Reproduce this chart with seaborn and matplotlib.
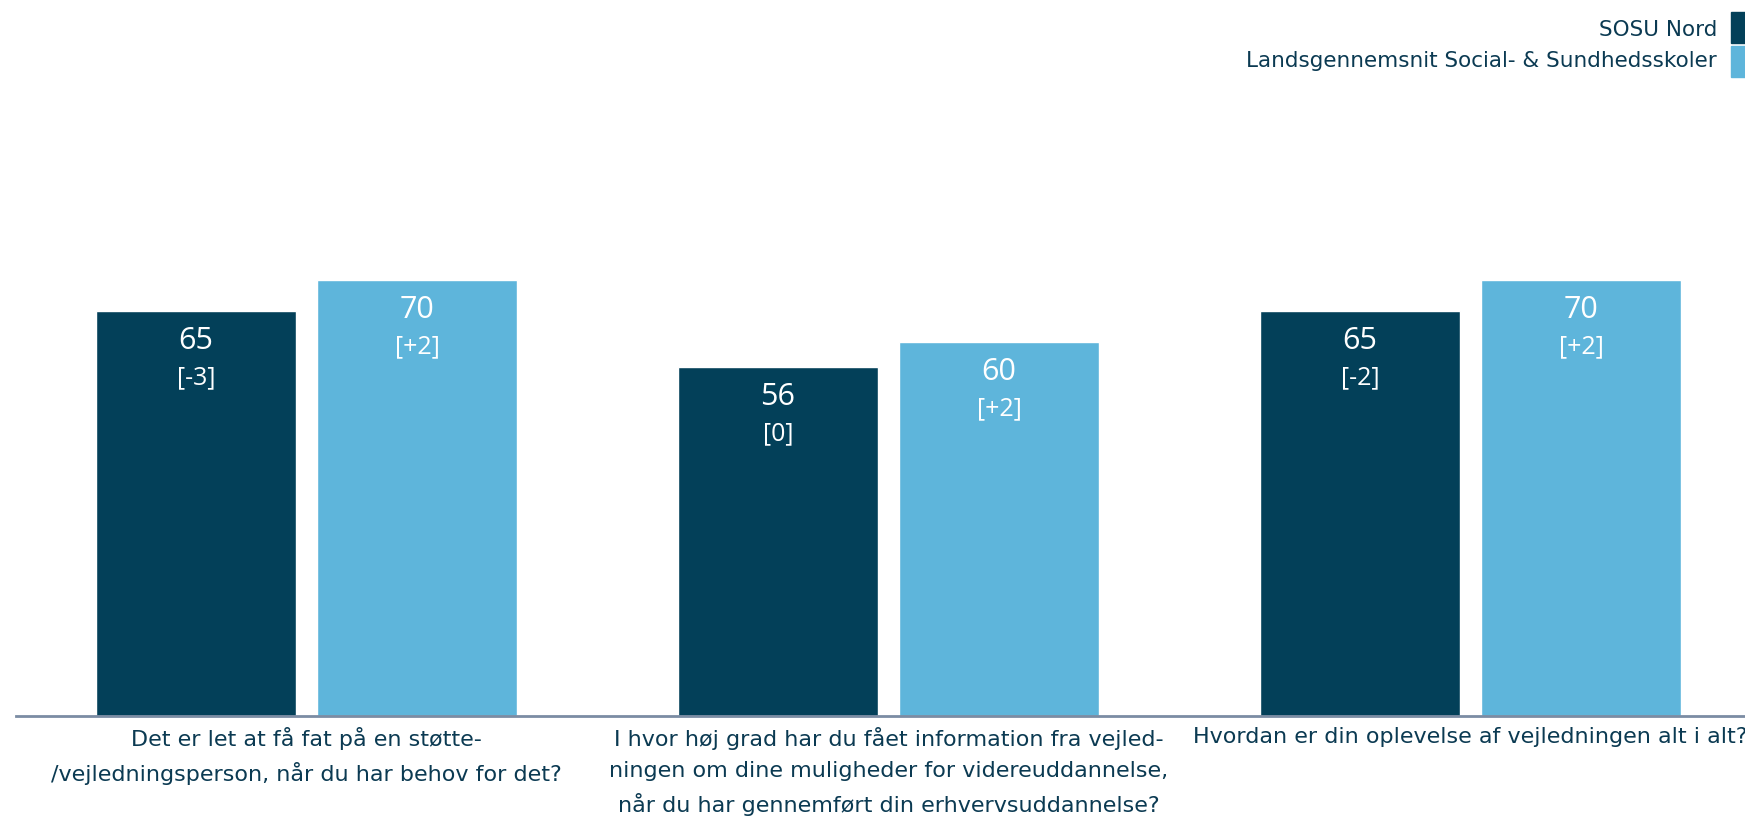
import matplotlib.pyplot as plt
import matplotlib.patches as mpatches
import seaborn as sns
import pandas as pd

# data
questions = [
    'Det er let at få fat på en støtte-\n/vejledningsperson, når du har behov for det?',
    'I hvor høj grad har du fået information fra vejled-\nningen om dine muligheder for videreuddannelse,\nnår du har gennemført din erhvervsuddannelse?',
    'Hvordan er din oplevelse af vejledningen alt i alt?',
]
series = ['SOSU Nord', 'Landsgennemsnit Social- & Sundhedsskoler']
sosu_nord = [65, 56, 65]
sosu_nord_diff = ['[-3]', '[0]', '[-2]']
landsgns = [70, 60, 70]
landsgns_diff = ['[+2]', '[+2]', '[+2]']

colors = ['#034059', '#5EB5DB']
text_col = '#0B3A52'

df = pd.DataFrame({
    'question': questions * 2,
    'serie': [series[0]] * 3 + [series[1]] * 3,
    'value': sosu_nord + landsgns,
})

sns.set_style('white')
plt.rcParams['font.family'] = ['DejaVu Sans']

fig = plt.figure(figsize=(17.45, 8.17), dpi=100)
ax = fig.add_axes([15.6 / 1745, 101 / 817, 1746 / 1745, 623.2 / 817])

sns.barplot(data=df, x='question', y='value', hue='serie', palette=colors,
            width=0.76, gap=0.095, saturation=1, legend=False, ax=ax)

ax.set_xlim(-0.5, 2.5)
ax.set_ylim(0, 100)
ax.set_xlabel('')
ax.set_ylabel('')
ax.set_yticks([])
for s in ['left', 'right', 'top']:
    ax.spines[s].set_visible(False)
ax.spines['bottom'].set_color('#7B8CA3')
ax.spines['bottom'].set_linewidth(2)
ax.tick_params(axis='x', length=0, pad=8)
for lab in ax.get_xticklabels():
    lab.set_fontsize(16)
    lab.set_color(text_col)
    lab.set_family('DejaVu Sans Condensed')
    lab.set_linespacing(1.65)
    lab.set_verticalalignment('top')

# value labels inside bars
diffs = [sosu_nord_diff, landsgns_diff]
for cont, vals, dl in zip(ax.containers, [sosu_nord, landsgns], diffs):
    for bar, v, d in zip(cont, vals, dl):
        xc = bar.get_x() + bar.get_width() / 2
        top = bar.get_height()
        ax.annotate(str(v), (xc, top), xytext=(0, -30), textcoords='offset pixels',
                    ha='center', va='center', color='white', fontsize=22,
                    family='Open Sans')
        ax.annotate(d, (xc, top), xytext=(0, -67), textcoords='offset pixels',
                    ha='center', va='center', color='white', fontsize=18,
                    family='Open Sans')

# legend top right
fig.text(1717 / 1745, 1 - 36 / 817, series[0], ha='right', va='baseline',
         fontsize=15.5, color=text_col, family='DejaVu Sans Condensed')
fig.text(1717 / 1745, 1 - 67 / 817, series[1], ha='right', va='baseline',
         fontsize=15.5, color=text_col, family='DejaVu Sans Condensed')
fig.patches.append(mpatches.Rectangle((1731 / 1745, 1 - 43 / 817), 20 / 1745, 31 / 817,
                                      transform=fig.transFigure, color=colors[0]))
fig.patches.append(mpatches.Rectangle((1731 / 1745, 1 - 77 / 817), 20 / 1745, 31 / 817,
                                      transform=fig.transFigure, color=colors[1]))

fig.savefig('out.png', dpi=100)
